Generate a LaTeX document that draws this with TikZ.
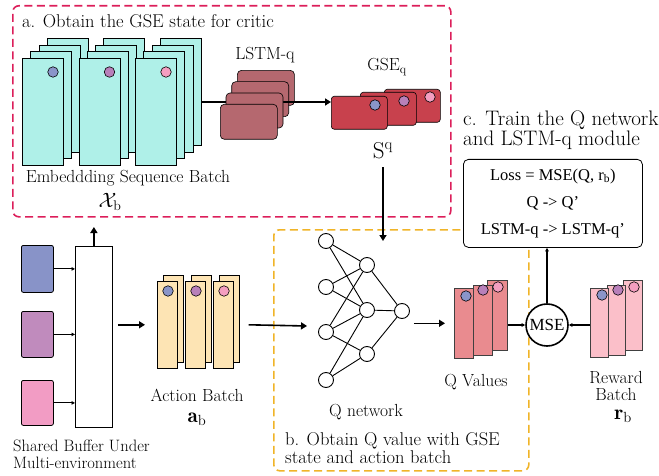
\documentclass[tikz,border=0pt]{standalone}
\usepackage{fontspec}
\newfontfamily\timesfont{Liberation Serif}
\usetikzlibrary{arrows.meta,positioning}

\definecolor{seqcyan}{RGB}{175,240,232}
\definecolor{dotblue}{RGB}{138,149,201}
\definecolor{dotpurple}{RGB}{184,128,186}
\definecolor{dotpink}{RGB}{244,158,192}
\definecolor{lstmred}{RGB}{181,104,111}
\definecolor{gsered}{RGB}{200,65,77}
\definecolor{dashred}{RGB}{220,30,90}
\definecolor{dashorange}{RGB}{240,180,40}
\definecolor{actpeach}{RGB}{253,228,180}
\definecolor{qsalmon}{RGB}{233,139,143}
\definecolor{rwpink}{RGB}{251,191,201}
\definecolor{sqblue}{RGB}{136,147,200}
\definecolor{sqpurple}{RGB}{192,139,189}
\definecolor{sqpink}{RGB}{242,156,196}

\tikzset{
  sheet/.style={draw, line width=0.6pt, inner sep=0pt, anchor=north west},
  dot/.style={circle, draw, line width=0.6pt, inner sep=0pt, minimum size=10.5pt},
  neuron/.style={circle, draw, line width=0.9pt, inner sep=0pt, minimum size=15pt},
  arr/.style={line width=1.6pt, -{Triangle[length=6pt,width=7pt]}},
  smallarr/.style={line width=0.9pt, -{Triangle[length=3.5pt,width=3.5pt]}},
  groupbox/.style={draw, dash pattern=on 8pt off 4.5pt, line width=1.6pt, rounded corners=6pt, inner sep=0pt, anchor=north west},
  lbl/.style={inner sep=0pt},
  headfont/.style={font=\fontsize{18.5}{18}\selectfont},
}

\begin{document}
\begin{tikzpicture}[x=1pt, y=-1pt, font=\fontsize{17.5}{17}\selectfont]
  \useasboundingbox (0,0) rectangle (659,476);

  % Group boxes
  \node[groupbox, draw=dashred, minimum width=438pt, minimum height=211pt] (boxa) at (12,5) {};
  \node[groupbox, draw=dashorange, minimum width=255pt, minimum height=241pt] (boxb) at (273,229) {};
  \node[lbl, anchor=west, headfont] (heada) at (22,21) {a. Obtain the GSE state for critic};
  \node[lbl, anchor=north west, align=left, headfont] (headb) at (285,432) {b. Obtain Q value with GSE\\state and action batch};
  \node[lbl, anchor=north west, align=left, font=\fontsize{21}{20}\selectfont] (headc) at (463,111) {c. Train the Q network\\and LSTM-q module};

  % Embedding sequence batch
  \foreach \g/\c in {0/dotblue,1/dotpurple,2/dotpink} {
    \foreach \k in {3,2,1,0}
      \node[sheet, fill=seqcyan, minimum width=41pt, minimum height=107pt] (x\g\k) at ({22+56.5*\g+8.3*\k},{58-6.7*\k}) {};
    \node[dot, fill=\c] (xd\g) at ({53+56.5*\g},72) {};
  }
  \node[lbl] (seqlbl) at (128,178) {Embeddding Sequence Batch};
  \node[lbl, font=\fontsize{20}{22}\selectfont] (xb) at (110,202) {$\mathcal{X}_\mathrm{b}$};

  % GSE_q
  \node[sheet, fill=gsered, rounded corners=3pt, minimum width=56pt, minimum height=33pt] (s2) at (384,89) {};
  \node[sheet, fill=gsered, rounded corners=3pt, minimum width=56pt, minimum height=33pt] (s1) at (360,92) {};
  \node[sheet, fill=gsered, rounded corners=3pt, minimum width=56pt, minimum height=33pt] (s0) at (331,96) {};
  \node[dot, fill=dotpink] (sd2) at (430,97) {};
  \node[dot, fill=dotpurple] (sd1) at (404,101) {};
  \node[dot, fill=dotblue] (sd0) at (375,105) {};
  \node[lbl] (gselbl) at (387,67) {GSE$_\mathrm{q}$};
  \node[lbl, font=\fontsize{23}{24}\selectfont] (sq) at (383,151) {S$^\mathrm{q}$};

  % LSTM-q
  \foreach \k in {3,2}
    \node[sheet, fill=lstmred, rounded corners=4pt, minimum width=57pt, minimum height=35pt] (l\k) at ({220+5.7*\k},{104-11.3*\k}) {};
  \coordinate (seqout) at (x23.east |- 0,102);
  \draw[arr] (seqout) -- (seqout -| s0.west);
  \foreach \k in {1,0}
    \node[sheet, fill=lstmred, rounded corners=4pt, minimum width=57pt, minimum height=35pt] (l\k) at ({220+5.7*\k},{104-11.3*\k}) {};
  \node[lbl] (lstmlbl) at (265,55) {LSTM-q};

  % Shared buffer
  \node[sheet, fill=sqblue, rounded corners=2pt, line width=0.8pt, minimum width=32pt, minimum height=47pt] (sq1) at (21,245) {};
  \node[sheet, fill=sqpurple, rounded corners=2pt, line width=0.8pt, minimum width=32pt, minimum height=46pt] (sq2) at (21,311) {};
  \node[sheet, fill=sqpink, rounded corners=2pt, line width=0.8pt, minimum width=32pt, minimum height=45pt] (sq3) at (21,380) {};
  \node[sheet, fill=white, line width=0.8pt, minimum width=37pt, minimum height=181pt] (buf) at (75,246) {};
  \node[lbl, anchor=north west, align=left, font=\fontsize{16.5}{17}\selectfont] (buflbl) at (13,440) {Shared Buffer Under\\Multi-environment};
  \coordinate (bufup) at (buf.north |- 0,227);

  % Action batch
  \foreach \g/\c in {0/dotblue,1/dotpurple,2/dotpink} {
    \node[sheet, fill=actpeach, minimum width=20pt, minimum height=87pt] (ab\g) at ({163+28*\g},275) {};
    \node[sheet, fill=actpeach, minimum width=20pt, minimum height=87pt] (af\g) at ({157+28*\g},281) {};
    \node[dot, fill=\c] (ad\g) at ({168+28*\g},291) {};
  }
  \node[lbl] (actlbl) at (197,395) {Action Batch};
  \node[lbl, font=\fontsize{21}{22}\selectfont] (ab) at (197,419) {$\mathbf{a}_\mathrm{b}$};

  % Q network
  \foreach \i/\y in {1/241,2/287,3/332,4/380}
    \node[neuron] (i\i) at (326,\y) {};
  \foreach \h/\y in {1/265,2/310,3/354}
    \node[neuron] (h\h) at (367,\y) {};
  \node[neuron] (o) at (402,311) {};
  \foreach \a/\b in {1/1,1/2,2/1,2/2,3/1,3/2,3/3,4/2,4/3}
    \draw[line width=0.9pt] (i\a) -- (h\b);
  \foreach \h in {1,2,3}
    \draw[line width=0.9pt] (h\h) -- (o);
  \node[lbl] (qnetlbl) at (366,412) {Q network};
  \coordinate (qin) at (307,326);

  % Q values
  \node[sheet, fill=qsalmon, draw=black!75, minimum width=20pt, minimum height=70pt] (v2) at (487,280) {};
  \node[sheet, fill=qsalmon, draw=black!75, minimum width=19pt, minimum height=70pt] (v1) at (473,285) {};
  \node[sheet, fill=qsalmon, draw=black!75, minimum width=19pt, minimum height=70pt] (v0) at (454,288) {};
  \node[dot, fill=dotpink] (vd2) at (498,287) {};
  \node[dot, fill=dotpurple] (vd1) at (483,290) {};
  \node[dot, fill=dotblue] (vd0) at (466,296) {};
  \node[lbl] (qvlbl) at (476,382) {Q Values};

  % Reward batch
  \node[sheet, fill=rwpink, draw=black!75, minimum width=19pt, minimum height=70pt] (r2) at (623,280) {};
  \node[sheet, fill=rwpink, draw=black!75, minimum width=18pt, minimum height=70pt] (r1) at (607,285) {};
  \node[sheet, fill=rwpink, draw=black!75, minimum width=18pt, minimum height=69pt] (r0) at (590,288) {};
  \node[dot, fill=dotpink] (rd2) at (634,287) {};
  \node[dot, fill=dotpurple] (rd1) at (618,290) {};
  \node[dot, fill=dotblue] (rd0) at (602,295) {};
  \node[lbl, align=center] (rwlbl) at (616,386) {Reward\\Batch};
  \node[lbl, font=\fontsize{21}{22}\selectfont] (rb) at (623,416) {$\mathbf{r}_\mathrm{b}$};

  % MSE and loss
  \node[circle, draw, fill=white, line width=1.6pt, minimum size=42pt, inner sep=0pt, font=\timesfont\fontsize{17}{18}\selectfont] (mse) at (547,325) {MSE};
  \node[draw, fill=white, rounded corners=5pt, line width=0.8pt, minimum width=179pt, minimum height=88pt, anchor=north west, align=center, font=\timesfont\fontsize{16.5}{27}\selectfont] (loss) at (463,159) {Loss = MSE(Q, r\textsubscript{b})\\Q -> Q’\\LSTM-q -> LSTM-q’};

  % Arrows
  \draw[smallarr] (sq1) -- (sq1 -| buf.west);
  \draw[smallarr] (sq2) -- (sq2 -| buf.west);
  \draw[smallarr] (sq3) -- (sq3 -| buf.west);
  \draw[arr] (buf.north) -- (bufup);
  \draw[arr] ([xshift=5pt]buf.east |- af0.west) -- ([xshift=-12pt]af0.west);
  \draw[arr] ([xshift=15pt]af2.east) -- (qin);
  \draw[arr] ([yshift=-8pt]sq.south) -- (sq.south |- i1.center);
  \draw[arr] ([xshift=4pt]o.east |- v0.west) -- ([xshift=-9pt]v0.west);
  \draw[smallarr, line width=1.2pt] (v2.east |- mse.west) -- (mse.west);
  \draw[smallarr, line width=1.2pt] (r0.west |- mse.east) -- (mse.east);
  \draw[smallarr, line width=1.2pt] (mse.north) -- (mse.north |- loss.south);
\end{tikzpicture}
\end{document}
